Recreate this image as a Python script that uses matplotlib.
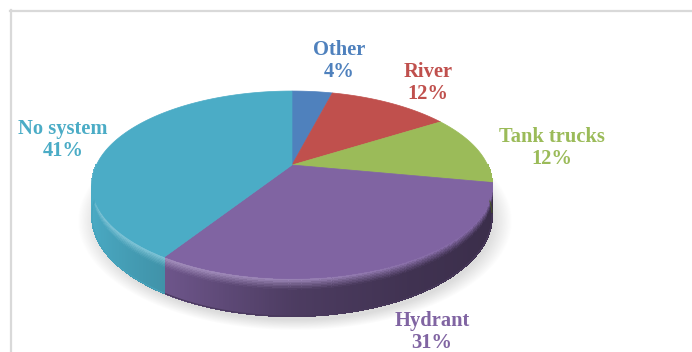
import numpy as np
import matplotlib
matplotlib.use("Agg")
import matplotlib.pyplot as plt
from matplotlib.patches import Polygon
from matplotlib.collections import PolyCollection
from matplotlib.colors import to_rgb

# ---- data ----
categories = ["Other", "River", "Tank trucks", "Hydrant", "No system"]
shares = [4, 12, 12, 31, 41]          # percent
colors = ["#4F81BD", "#C0504D", "#9BBB59", "#8064A2", "#4BACC6"]

# ---- layout (pixel space) ----
W, H = 692, 352
CX, CY = 292.0, 165.0        # pie centre on the top face
A, B = 195.6, 89.5           # radii of the tilted disc
K = 0.21                     # perspective strength
DEPTH = 30.0                 # thickness of the disc

# label block centres
label_pos = {
    "Other": (339, 61),
    "River": (428, 83),
    "Tank trucks": (552, 148),
    "Hydrant": (432, 332),
    "No system": (63, 140),
}


def proj(t, r=1.0, drop=0.0):
    """Project angle t (radians, clockwise from 12 o'clock) to pixels."""
    X = r * np.sin(t)
    Y = r * np.cos(t)
    f = 1.0 / (1.0 + K * Y)
    return CX + A * X * f, CY - B * Y * f + drop * f


fig = plt.figure(figsize=(W / 100, H / 100), dpi=100)
ax = fig.add_axes([0, 0, 1, 1])
ax.set_xlim(0, W)
ax.set_ylim(H, 0)
ax.axis("off")

# chart frame
ax.plot([11, 11], [10, H], color="#d9d9d9", lw=1.6, zorder=0)
ax.plot([10, W], [11, 11], color="#d9d9d9", lw=1.6, zorder=0)

# slice boundaries
total = float(sum(shares))
bounds = np.concatenate([[0.0], np.cumsum(shares) / total * 2 * np.pi])

# ---- soft shadow under the disc ----
tt = np.linspace(0, 2 * np.pi, 720)
bx, by = proj(tt, drop=DEPTH)
scx, scy = (bx.max() + bx.min()) / 2 + 3, (by.max() + by.min()) / 2 + 5
sax, say = (bx.max() - bx.min()) / 2 + 3, (by.max() - by.min()) / 2 + 2
gx, gy = np.meshgrid(np.arange(W) + 0.5, np.arange(H) + 0.5)
rho = np.sqrt(((gx - scx) / sax) ** 2 + ((gy - scy) / say) ** 2)
alpha = 0.30 * np.clip((1.07 - rho) / 0.10, 0, 1)
shadow = np.zeros((H, W, 4))
shadow[..., :3] = 0.55
shadow[..., 3] = alpha
ax.imshow(shadow, extent=(0, W, H, 0), zorder=1, interpolation="bilinear")


# ---- side wall with bevel shading ----
def side_shade(X):
    return np.interp(X, [-1, -0.5, 0, 0.5, 1], [1.0, 0.84, 0.60, 0.50, 0.45])


def highlight(X):
    return np.interp(X, [-1, 0, 0.6, 1], [0.35, 0.22, 0.05, 0.0])


def wall_color(base, X, v):
    base = np.array(base)
    side = base * side_shade(X)
    hl = base + (1 - base) * highlight(X)
    if v <= 0.07:
        w = v / 0.07
        c = base * (1 - w) + hl * w
    elif v <= 0.32:
        w = ((v - 0.07) / 0.25) ** 0.8
        c = hl * (1 - w) + side * w
    else:
        c = side
    return np.clip(c, 0, 1)


ts = np.linspace(np.pi / 2, 3 * np.pi / 2, 361)
vs = np.concatenate([np.linspace(0, 0.32, 9), np.linspace(0.4, 1, 4)])
polys, fcs = [], []
for i in range(len(ts) - 1):
    t0, t1 = ts[i], ts[i + 1]
    tm = 0.5 * (t0 + t1)
    idx = np.searchsorted(bounds, tm) - 1
    base = to_rgb(colors[idx])
    Xm = np.sin(tm)
    for j in range(len(vs) - 1):
        v0, v1 = vs[j], vs[j + 1]
        p00 = proj(t0, drop=DEPTH * v0)
        p10 = proj(t1, drop=DEPTH * v0)
        p11 = proj(t1, drop=DEPTH * v1)
        p01 = proj(t0, drop=DEPTH * v1)
        polys.append([p00, p10, p11, p01])
        fcs.append(wall_color(base, Xm, 0.5 * (v0 + v1)))
wall = PolyCollection(polys, facecolors=fcs, edgecolors=fcs,
                      linewidths=0.6, zorder=2)
wall.set_antialiased(False)
ax.add_collection(wall)

# smooth outline along the bottom rim of the wall
rim_t = np.linspace(np.pi / 2, 3 * np.pi / 2, 400)
for k in range(len(shares)):
    m = (rim_t >= bounds[k]) & (rim_t <= bounds[k + 1])
    if m.sum() < 2:
        continue
    rx, ry = proj(rim_t[m], drop=DEPTH)
    c = np.array(to_rgb(colors[k])) * side_shade(np.sin(rim_t[m])).mean()
    ax.plot(rx, ry, color=c, lw=0.8, zorder=2.1, solid_capstyle="butt")

# ---- top face ----
for k in range(len(shares)):
    t = np.linspace(bounds[k], bounds[k + 1], 200)
    px, py = proj(t)
    verts = np.column_stack([np.concatenate([[CX], px]),
                             np.concatenate([[CY], py])])
    ax.add_patch(Polygon(verts, closed=True, facecolor=colors[k],
                         edgecolor=colors[k], lw=0.5, zorder=3))

# ---- labels ----
for name, val, col in zip(categories, shares, colors):
    x, y = label_pos[name]
    ax.text(x, y, f"{name}\n{val}%", ha="center", va="center",
            multialignment="center", color=col, fontsize=14.8,
            fontfamily="Liberation Serif", fontweight="bold",
            linespacing=1.12, zorder=5)

fig.savefig("out.png", dpi=100)
